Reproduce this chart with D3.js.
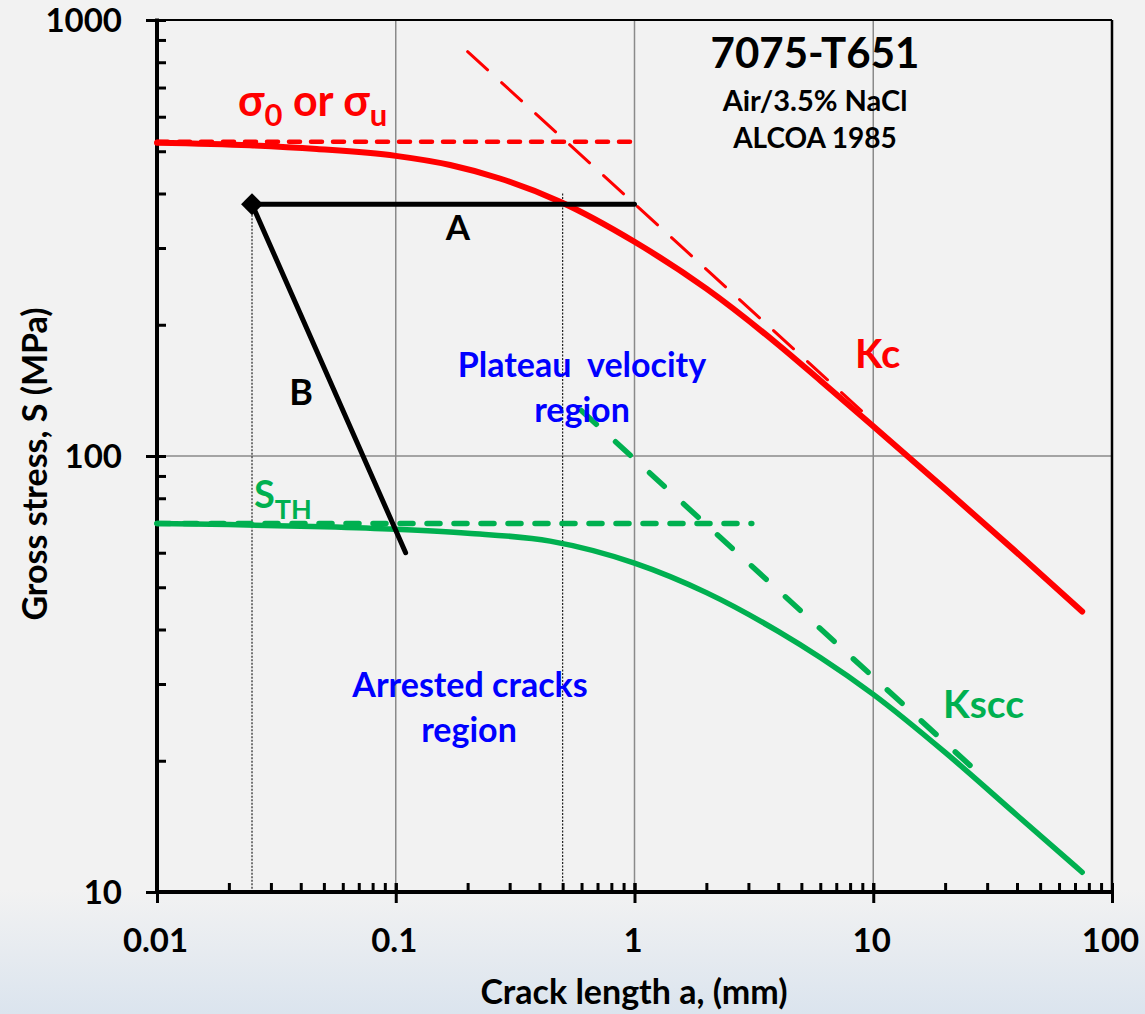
<!DOCTYPE html>
<html>
<head>
<meta charset="utf-8">
<script src="https://cdn.jsdelivr.net/npm/d3@7"></script>
<style>
  html, body { margin: 0; padding: 0; background: #f2f2f2; }
  svg { display: block; }
  text { font-family: Lato, "Open Sans", sans-serif; font-weight: 700; }
</style>
</head>
<body>
<div class="vis"></div>
<script>
// crack length a (mm) and gross stress S (MPa)
var kcA = [0.01, 0.0245, 0.0467, 0.1, 0.169, 0.273, 0.488, 1, 2, 4, 6, 10, 20, 40, 75];
var kcS = [523, 516, 506, 488, 465, 433, 383, 310, 242, 180, 149, 117, 84, 60, 44];

var kiscA = [0.01, 0.02, 0.05, 0.1, 0.2, 0.443, 1, 2, 4, 6, 10, 20, 40, 75];
var kiscS = [70, 69.6, 68.8, 67.9, 66.5, 63.8, 56.8, 48.6, 39.6, 34.5, 28.4, 20.9, 15.0, 11.1];

var sigma0A = [0.01, 1], sigma0S = [526, 526];
var sthA = [0.01, 3.1], sthS = [70, 70];
var kcAsymA = [0.2, 10], kcAsymS = [846, 120];
var ksccAsymA = [0.6, 28], ksccAsymS = [127, 18.6];

var pathA_A = [0.025, 1], pathA_S = [378, 378];
var pathB_A = [0.025, 0.11], pathB_S = [378, 60];
var dropA = [0.025, 0.5], dropTop = [378, 400];

var xTicks = [0.01, 0.1, 1, 10, 100];
var yTicks = [10, 100, 1000];
var xLabels = ["0.01", "0.1", "1", "10", "100"];
var yLabels = ["10", "100", "1000"];

var W = 1145, H = 1014;
var plotL = 157, plotR = 1112, plotT = 20, plotB = 892;

var svg = d3.select(".vis").append("svg").attr("width", W).attr("height", H);

var defs = svg.append("defs");
var grad = defs.append("linearGradient").attr("id", "bg").attr("x1", 0).attr("y1", 0).attr("x2", 0).attr("y2", 1);
grad.append("stop").attr("offset", "0%").attr("stop-color", "#f2f2f2");
grad.append("stop").attr("offset", "100%").attr("stop-color", "#dbe4ee");

svg.append("rect").attr("width", W).attr("height", H).attr("fill", "#f2f2f2");
svg.append("rect").attr("y", 890).attr("width", W).attr("height", H - 890).attr("fill", "url(#bg)");

var x = d3.scaleLog().domain([0.01, 100]).range([plotL, plotR]);
var y = d3.scaleLog().domain([10, 1000]).range([plotB, plotT]);

function minorTicks(lo, hi) {
    var out = [];
    for (var d = lo; d < hi; d *= 10) {
        for (var k = 1; k <= 10; k++) out.push(d * k);
    }
    return out;
}

// grid
svg.append("g").selectAll("line").data([0.1, 1, 10]).enter().append("line")
    .attr("x1", x).attr("x2", x).attr("y1", plotT).attr("y2", plotB)
    .attr("stroke", "#8a8a8a").attr("stroke-width", 1.5);
svg.append("line").attr("x1", plotL).attr("x2", plotR).attr("y1", y(100)).attr("y2", y(100))
    .attr("stroke", "#8a8a8a").attr("stroke-width", 1.5);

// dotted drop lines
svg.append("g").selectAll("line").data(dropA).enter().append("line")
    .attr("x1", function (d) { return x(d); }).attr("x2", function (d) { return x(d); })
    .attr("y1", function (d, i) { return y(dropTop[i]); }).attr("y2", plotB)
    .attr("stroke", "#222").attr("stroke-width", 1.2).attr("stroke-dasharray", "2,1.5");

// frame
svg.append("line").attr("x1", plotL).attr("x2", plotR).attr("y1", plotT).attr("y2", plotT)
    .attr("stroke", "#000").attr("stroke-width", 2);
svg.append("line").attr("x1", plotR).attr("x2", plotR).attr("y1", plotT).attr("y2", plotB)
    .attr("stroke", "#000").attr("stroke-width", 2.5);

// axes
var yOut = svg.append("g").attr("transform", "translate(" + plotL + ",0)")
    .call(d3.axisLeft(y).tickValues(yTicks).tickSize(11).tickPadding(24)
        .tickFormat(function (d, i) { return yLabels[i]; }));
var yIn = svg.append("g").attr("transform", "translate(" + plotL + ",0)")
    .call(d3.axisRight(y).tickValues(minorTicks(10, 1000)).tickSize(9).tickFormat(""));
var xOut = svg.append("g").attr("transform", "translate(0," + plotB + ")")
    .call(d3.axisBottom(x).tickValues(xTicks).tickSize(11)
        .tickFormat(function (d, i) { return xLabels[i]; }));
var xIn = svg.append("g").attr("transform", "translate(0," + plotB + ")")
    .call(d3.axisTop(x).tickValues(minorTicks(0.01, 100)).tickSize(9).tickFormat(""));

[yOut, yIn, xOut, xIn].forEach(function (g) {
    g.select(".domain").remove();
    g.selectAll(".tick line").attr("stroke", "#000").attr("stroke-width", 3);
});
yOut.selectAll("text").attr("font-size", 33).attr("fill", "#000").attr("dy", "0.36em")
    .style("font-family", "Lato").style("font-weight", 700);
xOut.selectAll("text").attr("font-size", 33).attr("fill", "#000").attr("y", 60).attr("dy", 0)
    .attr("dx", -2).style("font-family", "Lato").style("font-weight", 700);

svg.append("line").attr("x1", plotL).attr("x2", plotL).attr("y1", plotT - 1.5).attr("y2", plotB + 1.5)
    .attr("stroke", "#000").attr("stroke-width", 4);
svg.append("line").attr("x1", plotL - 1.5).attr("x2", plotR).attr("y1", plotB).attr("y2", plotB)
    .attr("stroke", "#000").attr("stroke-width", 4);

// lines
var line = d3.line().x(function (d) { return x(d[0]); }).y(function (d) { return y(d[1]); });
var smooth = d3.line().x(function (d) { return x(d[0]); }).y(function (d) { return y(d[1]); })
    .curve(d3.curveMonotoneX);

function pairs(a, s) { return a.map(function (v, i) { return [v, s[i]]; }); }

function draw(gen, a, s, color, width, dash) {
    svg.append("path").datum(pairs(a, s)).attr("d", gen)
        .attr("fill", "none").attr("stroke", color).attr("stroke-width", width)
        .attr("stroke-linecap", "round").attr("stroke-dasharray", dash || null);
}

var red = "#ff0000", green = "#00b050", blue = "#0000ff";

draw(line, sigma0A, sigma0S, red, 4.5, "11,11");
draw(line, sthA, sthS, green, 5.5, "13,14");
draw(line, kcAsymA, kcAsymS, red, 3, "27,19");
draw(line, ksccAsymA, ksccAsymS, green, 5.5, "20,26");
draw(smooth, kcA, kcS, red, 6);
draw(smooth, kiscA, kiscS, green, 5.5);
draw(line, pathA_A, pathA_S, "#000", 5);
draw(line, pathB_A, pathB_S, "#000", 5);

svg.append("path")
    .attr("d", d3.symbol(d3.symbolSquare, 240)())
    .attr("transform", "translate(" + x(pathA_A[0]) + "," + y(pathA_S[0]) + ") rotate(45)")
    .attr("fill", "#000");

// annotations
function label(txt, px, py, size, color, anchor) {
    return svg.append("text").attr("x", px).attr("y", py).attr("font-size", size)
        .attr("fill", color).attr("text-anchor", anchor || "start").style("white-space", "pre").text(txt);
}

label("7075-T651", 815, 68, 42, "#000", "middle");
label("Air/3.5% NaCl", 815, 111, 29, "#000", "middle");
label("ALCOA 1985", 815, 148, 28, "#000", "middle");

var sig = svg.append("text").attr("x", 238).attr("y", 116).attr("font-size", 43).attr("fill", red);
sig.append("tspan").text("σ");
sig.append("tspan").attr("dy", 10).attr("font-size", 31).text("0");
sig.append("tspan").attr("dy", -10).text(" or σ");
sig.append("tspan").attr("dy", 10).attr("font-size", 31).text("u");

label("A", 458, 240, 35, "#000", "middle");
label("B", 301, 405, 36, "#000", "middle");
label("Kc", 855, 368, 40, red);
label("Plateau  velocity", 582, 377, 34, blue, "middle");
label("region", 582, 422, 34, blue, "middle");

var sth = svg.append("text").attr("x", 254).attr("y", 508).attr("font-size", 38).attr("fill", green);
sth.append("tspan").text("S");
sth.append("tspan").attr("dy", 11).attr("font-size", 27).text("TH");

label("Arrested cracks", 470, 697, 34, blue, "middle");
label("region", 469, 742, 34, blue, "middle");
label("Kscc", 943, 718, 39, green);

// axis titles
label("Crack length a, (mm)", 634, 1004, 34, "#000", "middle");
svg.append("text").attr("transform", "translate(47,464) rotate(-90)")
    .attr("font-size", 34).attr("fill", "#000").attr("text-anchor", "middle")
    .text("Gross stress, S (MPa)");
</script>
</body>
</html>
